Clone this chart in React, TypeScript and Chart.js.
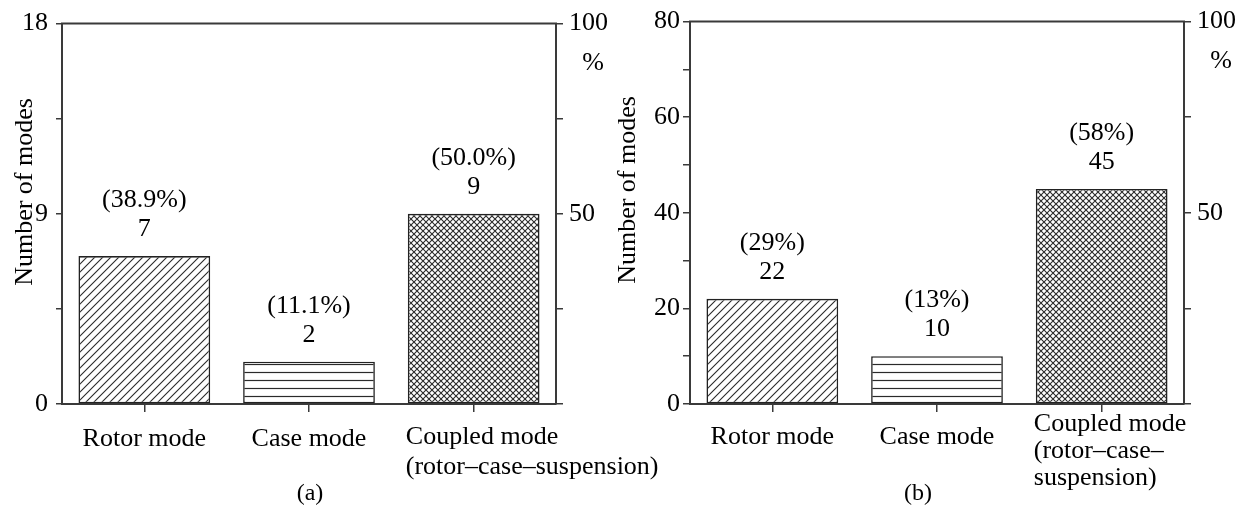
import { useEffect, useRef } from 'react';
import { Chart, registerables } from 'chart.js';

Chart.register(...registerables);

// ---------- data ----------
const CATEGORIES_A = [['Rotor mode'], ['Case mode'], ['Coupled mode', '(rotor–case–suspension)']];
const CATEGORIES_B = [['Rotor mode'], ['Case mode'], ['Coupled mode', '(rotor–case–', 'suspension)']];
const COUNTS_A = [7, 2, 9];
const PERCENTS_A = ['38.9%', '11.1%', '50.0%'];
const COUNTS_B = [22, 10, 45];
const PERCENTS_B = ['29%', '13%', '58%'];
const PATTERN_KINDS = ['diag', 'horiz', 'cross'];
const Y_TICKS_A = [0, 9, 18];
const Y_TICKS_B = [0, 20, 40, 60, 80];
const PCT_TICKS = [50, 100];

// ---------- style ----------
const W = 1244;
const H = 516;
const FONT = '"Liberation Serif", "Times New Roman", serif';
const AXIS = '#3a3a3a';
const INK = '#000';

function makePattern(ctx: CanvasRenderingContext2D, kind: string) {
  const c = document.createElement('canvas');
  const g = c.getContext('2d') as CanvasRenderingContext2D;
  if (kind === 'diag') {
    c.width = 8; c.height = 8;
    g.fillStyle = '#fff'; g.fillRect(0, 0, 8, 8);
    g.strokeStyle = '#2a2a2a'; g.lineWidth = 1.1;
    g.beginPath();
    g.moveTo(-1, 9); g.lineTo(9, -1);
    g.moveTo(-1, 1); g.lineTo(1, -1);
    g.moveTo(7, 9); g.lineTo(9, 7);
    g.stroke();
  } else if (kind === 'horiz') {
    c.width = 8; c.height = 8;
    g.fillStyle = '#fff'; g.fillRect(0, 0, 8, 8);
    g.strokeStyle = '#2a2a2a'; g.lineWidth = 1.2;
    g.beginPath(); g.moveTo(0, 4.5); g.lineTo(8, 4.5); g.stroke();
  } else {
    c.width = 6; c.height = 6;
    g.fillStyle = '#fff'; g.fillRect(0, 0, 6, 6);
    g.strokeStyle = '#2a2a2a'; g.lineWidth = 1.1;
    g.beginPath();
    g.moveTo(-1, -1); g.lineTo(7, 7);
    g.moveTo(-1, 7); g.lineTo(7, -1);
    g.stroke();
  }
  return ctx.createPattern(c, 'repeat') as CanvasPattern;
}

type Spec = {
  lines: string[][];
  counts: number[];
  percents: string[];
  yMax: number;
  yStep: number;
  yLabels: number[];
  area: { left: number; right: number; top: number; bottom: number };
  yTickLen: number;
  yPad: number;
  titleX: number;
  titleY: number;
  singleBaseline: number;
  multiBaselines: number[];
  caption: string;
  captionX: number;
  captionY: number;
};

function buildChart(canvas: HTMLCanvasElement, s: Spec) {
  const ctx = canvas.getContext('2d') as CanvasRenderingContext2D;
  const patterns = PATTERN_KINDS.map((k) => makePattern(ctx, k));

  const decor = {
    id: 'decor',
    afterDraw(chart: any) {
      const c = chart.ctx as CanvasRenderingContext2D;
      const a = chart.chartArea;
      c.save();
      // top frame line
      c.strokeStyle = AXIS;
      c.lineWidth = 2;
      c.beginPath();
      c.moveTo(a.left - 1, a.top);
      c.lineTo(a.right + 1, a.top);
      c.stroke();

      const meta = chart.getDatasetMeta(0);
      const yS = chart.scales.y;
      c.fillStyle = INK;
      c.font = `26px ${FONT}`;
      c.textAlign = 'center';
      c.textBaseline = 'middle';
      s.counts.forEach((v, i) => {
        const bar = meta.data[i];
        const top = yS.getPixelForValue(v);
        c.fillText(String(v), bar.x, top - 27);
        c.fillText(`(${s.percents[i]})`, bar.x, top - 56);
      });

      // category labels
      c.textBaseline = 'alphabetic';
      s.lines.forEach((ls, i) => {
        const bar = meta.data[i];
        if (ls.length === 1) {
          c.textAlign = 'center';
          c.fillText(ls[0], bar.x, s.singleBaseline);
        } else {
          c.textAlign = 'left';
          const x0 = bar.x - bar.width / 2 - 2;
          ls.forEach((t, j) => c.fillText(t, x0, s.multiBaselines[j]));
        }
      });

      // y title
      c.save();
      c.translate(s.titleX, s.titleY);
      c.rotate(-Math.PI / 2);
      c.textAlign = 'center';
      c.textBaseline = 'middle';
      c.fillText('Number of modes', 0, 0);
      c.restore();

      // % unit on right axis
      c.textAlign = 'center';
      c.textBaseline = 'middle';
      c.fillText('%', a.right + 37, a.top + 40);

      // caption
      c.font = `24px ${FONT}`;
      c.fillText(s.caption, s.captionX, s.captionY);
      c.restore();
    },
  };

  return new Chart(ctx, {
    type: 'bar',
    data: {
      labels: s.lines.map((l) => l.join(' ')),
      datasets: [
        {
          data: s.counts,
          backgroundColor: patterns,
          borderColor: '#222',
          borderWidth: 1.6,
          borderSkipped: false,
          categoryPercentage: 0.8,
          barPercentage: 1.0,
          yAxisID: 'y',
        },
      ],
    },
    options: {
      responsive: false,
      animation: false,
      devicePixelRatio: 1,
      layout: { padding: { top: s.area.top, left: 0, right: 0, bottom: 0 } },
      plugins: { legend: { display: false }, tooltip: { enabled: false }, title: { display: false } },
      scales: {
        x: {
          type: 'category',
          offset: true,
          afterFit: (sc: any) => { sc.height = H - s.area.bottom; },
          ticks: { display: false },
          grid: { offset: false, drawOnChartArea: false, drawTicks: true, tickLength: 8, color: AXIS, lineWidth: 1.5 },
          border: { display: true, color: AXIS, width: 2 },
        },
        y: {
          type: 'linear',
          position: 'left',
          min: 0,
          max: s.yMax,
          afterFit: (sc: any) => { sc.width = s.area.left; },
          ticks: {
            stepSize: s.yStep,
            autoSkip: false,
            padding: s.yPad,
            color: INK,
            font: { family: FONT, size: 26 },
            callback: (v: any) => (s.yLabels.includes(Number(v)) ? String(v) : ''),
          },
          grid: { drawOnChartArea: false, drawTicks: true, tickLength: s.yTickLen, color: AXIS, lineWidth: 1.5 },
          border: { display: true, color: AXIS, width: 2 },
        },
        y1: {
          type: 'linear',
          position: 'right',
          min: 0,
          max: 100,
          afterFit: (sc: any) => { sc.width = W - s.area.right; },
          ticks: {
            stepSize: 25,
            autoSkip: false,
            padding: 6,
            color: INK,
            font: { family: FONT, size: 26 },
            callback: (v: any) => (PCT_TICKS.includes(Number(v)) ? String(v) : ''),
          },
          grid: { drawOnChartArea: false, drawTicks: true, tickLength: 7, color: AXIS, lineWidth: 1.5 },
          border: { display: true, color: AXIS, width: 2 },
        },
      },
    },
    plugins: [decor],
  } as any);
}

export default function App() {
  const refA = useRef<HTMLCanvasElement>(null);
  const refB = useRef<HTMLCanvasElement>(null);

  useEffect(() => {
    const a = buildChart(refA.current as HTMLCanvasElement, {
      lines: CATEGORIES_A,
      counts: COUNTS_A,
      percents: PERCENTS_A,
      yMax: 18,
      yStep: 4.5,
      yLabels: Y_TICKS_A,
      area: { left: 62, right: 556, top: 20, bottom: 404 },
      yTickLen: 6,
      yPad: 8,
      titleX: 25,
      titleY: 192,
      singleBaseline: 446,
      multiBaselines: [444, 474],
      caption: '(a)',
      captionX: 310,
      captionY: 494,
    });
    const b = buildChart(refB.current as HTMLCanvasElement, {
      lines: CATEGORIES_B,
      counts: COUNTS_B,
      percents: PERCENTS_B,
      yMax: 80,
      yStep: 10,
      yLabels: Y_TICKS_B,
      area: { left: 690, right: 1184, top: 20, bottom: 404 },
      yTickLen: 7,
      yPad: 3,
      titleX: 628,
      titleY: 190,
      singleBaseline: 444,
      multiBaselines: [431, 458, 485],
      caption: '(b)',
      captionX: 918,
      captionY: 494,
    });
    return () => {
      a.destroy();
      b.destroy();
    };
  }, []);

  return (
    <div style={{ position: 'absolute', left: 0, top: 0, width: W, height: H, background: '#fff' }}>
      <canvas ref={refA} width={W} height={H} style={{ position: 'absolute', left: 0, top: 0, display: 'block' }} />
      <canvas ref={refB} width={W} height={H} style={{ position: 'absolute', left: 0, top: 0, display: 'block' }} />
    </div>
  );
}
